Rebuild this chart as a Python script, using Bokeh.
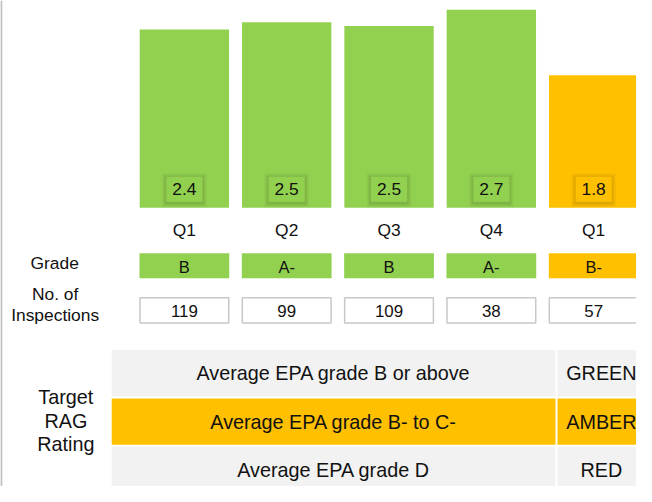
from bokeh.plotting import figure
from bokeh.models import Range1d, ColumnDataSource
from bokeh.embed import file_html
from bokeh.resources import INLINE
from bokeh.core.properties import value

# ---------------- data ----------------
quarters = ["Q1", "Q2", "Q3", "Q4", "Q1"]
avg_scores = [2.42, 2.52, 2.47, 2.69, 1.80]
grades = ["B", "A-", "B", "A-", "B-"]
inspections = [119, 99, 109, 38, 57]
quarter_rag = ["GREEN", "GREEN", "GREEN", "GREEN", "AMBER"]

criteria = ["Average EPA grade B or above",
            "Average EPA grade B- to C-",
            "Average EPA grade D"]
ratings = ["GREEN", "AMBER", "RED"]

# ---------------- styles ----------------
FONT = value("Liberation Sans")
TXT = "#111111"
bar_color = {"GREEN": "#92d050", "AMBER": "#ffc000", "RED": "#ff0000"}
row_color = {"GREEN": "#f2f2f2", "AMBER": "#ffc000", "RED": "#f2f2f2"}

W, H = 636, 486
REF_W, REF_H = 652, 502
SX = W / REF_W
SY = H / REF_H
PX_PER_X = 104.9      # reference pixels per category step
X_ORIGIN = 188.5      # reference x of first category centre
PX_PER_Y = 76.0       # reference pixels per score unit
Y_ORIGIN = 214.0      # reference y of score 0


def px2x(px):
    return (px - X_ORIGIN) / PX_PER_X


def py2y(py):
    return (Y_ORIGIN - py) / PX_PER_Y


def fs(px):
    return f"{px * SY:.1f}px"


p = figure(width=W, height=H,
           x_range=Range1d(px2x(0), px2x(REF_W)),
           y_range=Range1d(py2y(REF_H), py2y(0)),
           output_backend="svg", toolbar_location=None,
           x_axis_location=None, y_axis_location=None,
           min_border=0)
p.grid.visible = False
p.outline_line_color = None
p.background_fill_color = "white"
p.border_fill_color = "white"

idx = list(range(len(quarters)))
src = ColumnDataSource(dict(
    x=idx,
    score=avg_scores,
    score_lbl=[f"{v:.1f}" for v in avg_scores],
    q=quarters,
    grade=grades,
    insp=[str(n) for n in inspections],
    color=[bar_color[r] for r in quarter_rag],
))

# left border line
p.segment(x0=px2x(0.8), x1=px2x(0.8), y0=py2y(0), y1=py2y(REF_H),
          line_color="#bfbfbf", line_width=2)

# bars
p.vbar(x="x", top="score", bottom=0, width=91.6 / PX_PER_X,
       fill_color="color", line_color=None, source=src)

# value label boxes with soft shadow
yb = py2y(195)
for w, h, a in [(46, 35, 0.02), (44, 33, 0.03), (42, 31, 0.035), (40, 29, 0.04)]:
    p.rect(x="x", y=yb - 1.0 / PX_PER_Y, width=w * SX, height=h * SY,
           width_units="screen", height_units="screen",
           fill_color="#000000", fill_alpha=a, line_color=None, source=src)
p.rect(x="x", y=yb, width=37 * SX, height=26 * SY,
       width_units="screen", height_units="screen",
       fill_color="color", line_color=None, source=src)
p.text(x="x", y=yb, text="score_lbl", text_align="center",
       text_baseline="middle", text_font=FONT, text_font_size=fs(18),
       text_color=TXT, source=src)

# quarter labels
p.text(x="x", y=py2y(237), text="q", text_align="center",
       text_baseline="middle", text_font=FONT, text_font_size=fs(18),
       text_color=TXT, source=src)

# grade row
p.rect(x="x", y=py2y(274), width=92 * SX, height=26 * SY,
       width_units="screen", height_units="screen",
       fill_color="color", line_color=None, source=src)
p.text(x="x", y=py2y(275), text="grade", text_align="center",
       text_baseline="middle", text_font=FONT, text_font_size=fs(17),
       text_color=TXT, source=src)

# inspections row
p.rect(x="x", y=py2y(320), width=91 * SX, height=26 * SY,
       width_units="screen", height_units="screen",
       fill_color="white", line_color="#c8c8c8", line_width=1.5, source=src)
p.text(x="x", y=py2y(320.5), text="insp", text_align="center",
       text_baseline="middle", text_font=FONT, text_font_size=fs(17.5),
       text_color=TXT, source=src)

# row headings
p.text(x=[px2x(55.5), px2x(56), px2x(56)],
       y=[py2y(271), py2y(303), py2y(325)],
       text=["Grade", "No. of", "Inspections"],
       text_align="center", text_baseline="middle", text_font=FONT,
       text_font_size=fs(18), text_color=TXT)

# RAG table
tops = [361, 411, 461]
bots = [409, 459, 512]
centers = [385, 435, 484.5]
tsrc = ColumnDataSource(dict(
    top=[py2y(t) for t in tops],
    bottom=[py2y(b) for b in bots],
    yc=[py2y(c) for c in centers],
    crit=criteria,
    rat=ratings,
    fill=[row_color[r] for r in ratings],
))
p.quad(left=px2x(114), right=px2x(569), top="top", bottom="bottom",
       fill_color="fill", line_color=None, source=tsrc)
p.quad(left=px2x(571), right=px2x(663), top="top", bottom="bottom",
       fill_color="fill", line_color=None, source=tsrc)
p.text(x=px2x(341.5), y="yc", text="crit", text_align="center",
       text_baseline="middle", text_font=FONT, text_font_size=fs(20.5),
       text_color=TXT, source=tsrc)
p.text(x=px2x(616), y="yc", text="rat", text_align="center",
       text_baseline="middle", text_font=FONT, text_font_size=fs(20.5),
       text_color=TXT, source=tsrc)

p.text(x=[px2x(67)] * 3, y=[py2y(409.5), py2y(434), py2y(458.5)],
       text=["Target", "RAG", "Rating"], text_align="center",
       text_baseline="middle", text_font=FONT, text_font_size=fs(20.5),
       text_color=TXT)

open("out.html", "w").write(file_html(p, INLINE))
